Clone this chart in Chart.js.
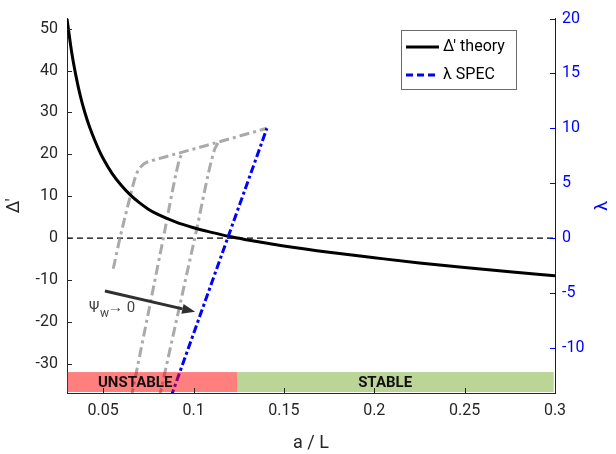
<!DOCTYPE html>
<html>
<head>
<meta charset="utf-8">
<script src="https://cdn.jsdelivr.net/npm/chart.js@4/dist/chart.umd.min.js"></script>
<style>
  html, body { margin: 0; padding: 0; background: #fff; }
</style>
</head>
<body>
<canvas id="chart" width="616" height="454"></canvas>
<script>
// Delta' theory (left axis)
const theoryA = [0.03, 0.0325, 0.035, 0.0375, 0.04, 0.0425, 0.045, 0.0475, 0.05, 0.055, 0.06, 0.065, 0.07, 0.075, 0.08, 0.09, 0.1, 0.11, 0.12, 0.13, 0.14, 0.15, 0.175, 0.2, 0.225, 0.25, 0.275, 0.3];
const theoryDelta = [52.4, 44.6, 38.6, 33.7, 29.8, 26.5, 23.7, 21.2, 19.0, 15.4, 12.6, 10.3, 8.45, 6.9, 5.7, 3.85, 2.45, 1.35, 0.35, -0.45, -1.2, -1.9, -3.4, -4.7, -5.95, -7.05, -8.05, -9.0];

// lambda from SPEC (right axis)
const specA = [0.0875, 0.1189, 0.1406];
const specLambda = [-14.5, 0, 10];

// grey curves, Psi_w decreasing
const psi1A = [0.0556, 0.0593, 0.0649, 0.0677, 0.0697, 0.0715, 0.0735, 0.076, 0.0944, 0.1138, 0.1406];
const psi1L = [-2.8, 0, 3.75, 5.5, 6.25, 6.6, 6.85, 7.0, 7.85, 8.75, 10.0];
const psi2A = [0.0655, 0.0833, 0.0905, 0.0925, 0.0944];
const psi2L = [-14.6, 0, 6.0, 7.3, 7.85];
const psi3A = [0.081, 0.1007, 0.1115, 0.1128, 0.1138];
const psi3L = [-14.6, 0, 8.0, 8.45, 8.75];

const zeroA = [0.03, 0.3];
const zeroY = [0, 0];

const xTicks = [0.05, 0.1, 0.15, 0.2, 0.25, 0.3];
const leftTicks = [-30, -20, -10, 0, 10, 20, 30, 40, 50];
const rightTicks = [-10, -5, 0, 5, 10, 15, 20];

const bandEdges = [0.03, 0.1243, 0.2993];
const bandTop = -32.0;
const bandLabels = ['UNSTABLE', 'STABLE'];
const bandLabelA = [0.0677, 0.206];
const bandColors = ['rgba(255,0,0,0.5)', 'rgba(119,172,48,0.5)'];

const arrowFrom = [0.051, -12.66];
const arrowTo = [0.1009, -17.6];

const pts = (xs, ys) => xs.map((v, i) => ({ x: v, y: ys[i] }));
const FONT = 'Roboto';
const INK = '#262626';
const BLUE = '#0000ff';

const overlay = {
  id: 'overlay',
  afterDatasetsDraw(chart) {
    const { ctx, chartArea: ca } = chart;
    const x = chart.scales.x, y = chart.scales.y;
    ctx.save();
    // stability bands
    const top = y.getPixelForValue(bandTop);
    for (let i = 0; i < bandLabels.length; i++) {
      const x0 = x.getPixelForValue(bandEdges[i]);
      const x1 = x.getPixelForValue(bandEdges[i + 1]);
      ctx.fillStyle = bandColors[i];
      ctx.fillRect(x0, top, x1 - x0, ca.bottom - 1 - top);
      ctx.fillStyle = '#111';
      ctx.font = 'bold 15px ' + FONT;
      ctx.textAlign = 'center';
      ctx.textBaseline = 'middle';
      ctx.fillText(bandLabels[i], x.getPixelForValue(bandLabelA[i]), (top + ca.bottom) / 2 + 1);
    }
    // arrow
    const ax0 = x.getPixelForValue(arrowFrom[0]), ay0 = y.getPixelForValue(arrowFrom[1]);
    const ax1 = x.getPixelForValue(arrowTo[0]), ay1 = y.getPixelForValue(arrowTo[1]);
    const ang = Math.atan2(ay1 - ay0, ax1 - ax0);
    const hl = 13, hw = 5;
    ctx.strokeStyle = '#303030';
    ctx.fillStyle = '#303030';
    ctx.lineWidth = 3;
    ctx.beginPath();
    ctx.moveTo(ax0, ay0);
    ctx.lineTo(ax1 - hl * Math.cos(ang), ay1 - hl * Math.sin(ang));
    ctx.stroke();
    ctx.beginPath();
    ctx.moveTo(ax1, ay1);
    ctx.lineTo(ax1 - hl * Math.cos(ang) + hw * Math.sin(ang), ay1 - hl * Math.sin(ang) - hw * Math.cos(ang));
    ctx.lineTo(ax1 - hl * Math.cos(ang) - hw * Math.sin(ang), ay1 - hl * Math.sin(ang) + hw * Math.cos(ang));
    ctx.closePath();
    ctx.fill();
    // arrow label
    const lx = ax0 - 16, ly = ay0 + 21;
    ctx.fillStyle = '#444';
    ctx.textAlign = 'left';
    ctx.textBaseline = 'alphabetic';
    ctx.font = '15px ' + FONT;
    ctx.fillText('\u03A8', lx, ly);
    ctx.font = '12px ' + FONT;
    ctx.fillText('w', lx + 11, ly + 5);
    ctx.font = '15px ' + FONT;
    ctx.fillText('\u2192 0', lx + 19, ly);
    ctx.restore();
  },
  afterDraw(chart) {
    const { ctx, chartArea: ca } = chart;
    const x = chart.scales.x, y = chart.scales.y, y2 = chart.scales.y2;
    ctx.save();
    ctx.lineWidth = 1;
    // inward ticks
    ctx.strokeStyle = INK;
    ctx.beginPath();
    xTicks.forEach(v => {
      const px = Math.round(x.getPixelForValue(v)) + 0.5;
      ctx.moveTo(px, ca.bottom); ctx.lineTo(px, ca.bottom - 5);
    });
    leftTicks.forEach(v => {
      const py = Math.round(y.getPixelForValue(v)) + 0.5;
      ctx.moveTo(ca.left, py); ctx.lineTo(ca.left + 5, py);
    });
    ctx.stroke();
    ctx.strokeStyle = BLUE;
    ctx.beginPath();
    rightTicks.forEach(v => {
      const py = Math.round(y2.getPixelForValue(v)) + 0.5;
      ctx.moveTo(ca.right, py); ctx.lineTo(ca.right - 5, py);
    });
    ctx.stroke();

    // right axis title, read bottom to top
    ctx.fillStyle = BLUE;
    ctx.font = '18px ' + FONT;
    ctx.textAlign = 'center';
    ctx.textBaseline = 'middle';
    ctx.translate(602, (ca.top + ca.bottom) / 2);
    ctx.rotate(-Math.PI / 2);
    ctx.fillText('\u03BB', 0, 0);
    ctx.setTransform(1, 0, 0, 1, 0, 0);

    // legend box
    const bx = 401.5, by = 30.5, bw = 115, bh = 59;
    ctx.fillStyle = '#fff';
    ctx.fillRect(bx, by, bw, bh);
    ctx.strokeStyle = '#6b6b6b';
    ctx.strokeRect(bx, by, bw, bh);
    const items = chart.data.datasets.filter(d => d.legendOrder).sort((a, b) => a.legendOrder - b.legendOrder);
    items.forEach((d, i) => {
      const ly = 47 + i * 28;
      ctx.strokeStyle = d.borderColor;
      ctx.lineWidth = 3;
      ctx.setLineDash(d.legendDash || []);
      ctx.beginPath();
      ctx.moveTo(406, ly); ctx.lineTo(439, ly);
      ctx.stroke();
      ctx.setLineDash([]);
      ctx.fillStyle = '#000';
      ctx.font = '16px ' + FONT;
      ctx.textAlign = 'left';
      ctx.textBaseline = 'middle';
      ctx.fillText(d.label, 443, ly);
    });
    ctx.restore();
  }
};

const ticksFrom = arr => s => { s.ticks = arr.map(v => ({ value: v })); };

new Chart(document.getElementById('chart'), {
  type: 'line',
  data: {
    datasets: [
      {
        label: '\u03BB SPEC', legendOrder: 2, legendDash: [7, 4],
        data: pts(specA, specLambda), yAxisID: 'y2',
        borderColor: BLUE, borderWidth: 3, borderDash: [8, 3, 3, 3],
        pointRadius: 0, tension: 0
      },
      {
        label: '\u0394\u2032 theory', legendOrder: 1,
        data: pts(theoryA, theoryDelta), yAxisID: 'y',
        borderColor: '#000', borderWidth: 3,
        pointRadius: 0, cubicInterpolationMode: 'monotone'
      },
      {
        label: 'psi1', data: pts(psi1A, psi1L), yAxisID: 'y2',
        borderColor: '#aaaaaa', borderWidth: 3, borderDash: [10, 4, 3, 4],
        pointRadius: 0, cubicInterpolationMode: 'monotone'
      },
      {
        label: 'psi2', data: pts(psi2A, psi2L), yAxisID: 'y2',
        borderColor: '#aaaaaa', borderWidth: 3, borderDash: [10, 4, 3, 4],
        pointRadius: 0, cubicInterpolationMode: 'monotone'
      },
      {
        label: 'psi3', data: pts(psi3A, psi3L), yAxisID: 'y2',
        borderColor: '#aaaaaa', borderWidth: 3, borderDash: [10, 4, 3, 4],
        pointRadius: 0, cubicInterpolationMode: 'monotone'
      },
      {
        label: 'zero', data: pts(zeroA, zeroY), yAxisID: 'y',
        borderColor: '#000', borderWidth: 1.2, borderDash: [6, 4],
        pointRadius: 0
      }
    ]
  },
  options: {
    responsive: false,
    animation: false,
    layout: { padding: { top: 11, left: 0, right: 0, bottom: 0 } },
    plugins: { legend: { display: false }, tooltip: { enabled: false } },
    scales: {
      x: {
        type: 'linear', position: 'bottom', min: 0.03, max: 0.3,
        afterBuildTicks: ticksFrom(xTicks),
        afterFit: s => { s.height = 61; },
        grid: { display: false, drawTicks: false },
        border: { display: true, color: INK, width: 1 },
        ticks: { color: INK, font: { family: FONT, size: 16 }, padding: 8, maxRotation: 0, callback: v => String(v) },
        title: { display: true, text: 'a / L', color: INK, font: { family: FONT, size: 18 }, padding: { top: 2, bottom: 0 } }
      },
      y: {
        type: 'linear', position: 'left', min: -37.0, max: 52.4,
        afterBuildTicks: ticksFrom(leftTicks),
        afterFit: s => { s.width = 67; },
        grid: { display: false, drawTicks: false },
        border: { display: true, color: INK, width: 1 },
        ticks: { color: INK, font: { family: FONT, size: 16 }, padding: 9, callback: v => String(v) },
        title: { display: true, text: '\u0394\u2032', color: INK, font: { family: FONT, size: 18 }, padding: { top: 4, bottom: 0 } }
      },
      y2: {
        type: 'linear', position: 'right', min: -14.13, max: 20,
        afterBuildTicks: ticksFrom(rightTicks),
        afterFit: s => { s.width = 61; },
        grid: { display: false, drawTicks: false },
        border: { display: true, color: BLUE, width: 1 },
        ticks: { color: BLUE, font: { family: FONT, size: 16 }, padding: 7, callback: v => String(v) }
      }
    }
  },
  plugins: [overlay]
});
</script>
</body>
</html>
